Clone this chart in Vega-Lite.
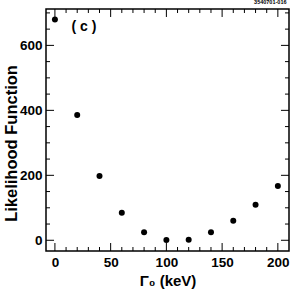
{
  "$schema": "https://vega.github.io/schema/vega-lite/v6.json",
  "width": 243,
  "height": 242,
  "autosize": {"type": "none"},
  "padding": {"left": 46, "top": 9, "right": 11, "bottom": 40},
  "title": {"text": "3540701-016", "anchor": "end", "fontSize": 5.5, "fontWeight": "bold", "font": "Liberation Sans", "offset": 3, "dx": -3},
  "config": {
    "view": {"stroke": "black", "strokeWidth": 1.5},
    "font": "Liberation Sans",
    "axis": {"domain": false, "grid": false, "labelFont": "Liberation Sans", "titleFont": "Liberation Sans"}
  },
  "datasets": {
    "pts": [
      {"g": 0, "L": 680},
      {"g": 20, "L": 386},
      {"g": 40, "L": 198},
      {"g": 60, "L": 85},
      {"g": 80, "L": 25},
      {"g": 100, "L": 1},
      {"g": 120, "L": 2},
      {"g": 140, "L": 25},
      {"g": 160, "L": 60},
      {"g": 180, "L": 109},
      {"g": 200, "L": 167}
    ],
    "xminor": [{"v": 10}, {"v": 20}, {"v": 30}, {"v": 40}, {"v": 60}, {"v": 70}, {"v": 80}, {"v": 90}, {"v": 110}, {"v": 120}, {"v": 130}, {"v": 140}, {"v": 160}, {"v": 170}, {"v": 180}, {"v": 190}],
    "xmajor": [{"v": 0}, {"v": 50}, {"v": 100}, {"v": 150}, {"v": 200}],
    "yminor": [{"v": 50}, {"v": 100}, {"v": 150}, {"v": 250}, {"v": 300}, {"v": 350}, {"v": 450}, {"v": 500}, {"v": 550}, {"v": 650}, {"v": 700}],
    "ymajor": [{"v": 0}, {"v": 200}, {"v": 400}, {"v": 600}]
  },
  "layer": [
    {
      "data": {"name": "xminor"},
      "mark": {"type": "rule", "color": "black", "strokeWidth": 1},
      "encoding": {
        "x": {"field": "v", "type": "quantitative", "scale": {"domain": [-8, 210], "nice": false, "zero": false}},
        "y": {"datum": -33, "type": "quantitative", "scale": {"domain": [-33, 712], "nice": false, "zero": false}},
        "y2": {"datum": -20.7}
      }
    },
    {
      "data": {"name": "xmajor"},
      "mark": {"type": "rule", "color": "black", "strokeWidth": 1},
      "encoding": {
        "x": {"field": "v", "type": "quantitative"},
        "y": {"datum": -33, "type": "quantitative"},
        "y2": {"datum": -8.4}
      }
    },
    {
      "data": {"name": "xminor"},
      "mark": {"type": "rule", "color": "black", "strokeWidth": 1},
      "encoding": {
        "x": {"field": "v", "type": "quantitative"},
        "y": {"datum": 712, "type": "quantitative"},
        "y2": {"datum": 699.7}
      }
    },
    {
      "data": {"name": "xmajor"},
      "mark": {"type": "rule", "color": "black", "strokeWidth": 1},
      "encoding": {
        "x": {"field": "v", "type": "quantitative"},
        "y": {"datum": 712, "type": "quantitative"},
        "y2": {"datum": 687.4}
      }
    },
    {
      "data": {"name": "yminor"},
      "mark": {"type": "rule", "color": "black", "strokeWidth": 1},
      "encoding": {
        "y": {"field": "v", "type": "quantitative"},
        "x": {"datum": -8, "type": "quantitative"},
        "x2": {"datum": -4.4}
      }
    },
    {
      "data": {"name": "ymajor"},
      "mark": {"type": "rule", "color": "black", "strokeWidth": 1},
      "encoding": {
        "y": {"field": "v", "type": "quantitative"},
        "x": {"datum": -8, "type": "quantitative"},
        "x2": {"datum": -0.8}
      }
    },
    {
      "data": {"name": "yminor"},
      "mark": {"type": "rule", "color": "black", "strokeWidth": 1},
      "encoding": {
        "y": {"field": "v", "type": "quantitative"},
        "x": {"datum": 210, "type": "quantitative"},
        "x2": {"datum": 206.4}
      }
    },
    {
      "data": {"name": "ymajor"},
      "mark": {"type": "rule", "color": "black", "strokeWidth": 1},
      "encoding": {
        "y": {"field": "v", "type": "quantitative"},
        "x": {"datum": 210, "type": "quantitative"},
        "x2": {"datum": 202.8}
      }
    },
    {
      "data": {"name": "pts"},
      "mark": {"type": "point", "filled": true, "color": "black", "opacity": 1, "size": 36},
      "encoding": {
        "x": {"field": "g", "type": "quantitative", "axis": {"orient": "bottom", "values": [0, 50, 100, 150, 200], "ticks": false, "labelPadding": 4, "labelFontSize": 13.5, "labelFontWeight": "bold", "labelColor": "black", "title": "Γ₀ (keV)", "titleFontSize": 15, "titleFontWeight": "bold", "titleColor": "black", "titlePadding": 5}},
        "y": {"field": "L", "type": "quantitative", "axis": {"orient": "left", "values": [0, 200, 400, 600], "ticks": false, "labelPadding": 4, "labelFontSize": 13.5, "labelFontWeight": "bold", "labelColor": "black", "title": "Likelihood Function", "titleFontSize": 16.5, "titleFontWeight": "bold", "titleColor": "black", "titleAngle": -90, "titleX": -30, "titleY": 134, "titleAlign": "center", "titleBaseline": "alphabetic"}}
      }
    },
    {
      "data": {"values": [{}]},
      "mark": {"type": "text", "text": "( c )", "fontSize": 14, "fontWeight": "bold", "color": "black", "font": "Liberation Sans", "baseline": "middle", "align": "center"},
      "encoding": {
        "x": {"datum": 26, "type": "quantitative"},
        "y": {"datum": 656, "type": "quantitative"}
      }
    }
  ]
}
